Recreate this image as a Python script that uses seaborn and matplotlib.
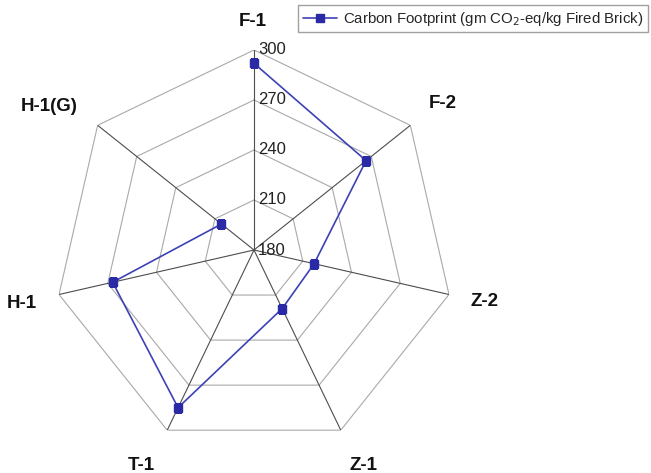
import numpy as np
import pandas as pd
import seaborn as sns
import matplotlib.pyplot as plt

# 데이터
categories = ["F-1", "F-2", "Z-2", "Z-1", "T-1", "H-1", "H-1(G)"]
footprint = [292, 266, 217, 219, 285, 267, 205]
ring_values = [180, 210, 240, 270, 300]
series_name = "Carbon Footprint (gm CO$_2$-eq/kg Fired Brick)"

sns.set_style("white")
plt.rcParams["font.family"] = ["Liberation Sans", "DejaVu Sans"]

fig = plt.figure(figsize=(6.51, 4.73), dpi=100)
ax = fig.add_axes([54 / 651, 23 / 473, 400 / 651, 400 / 473], projection="polar")
ax.set_theta_zero_location("N")
ax.set_theta_direction(-1)
ax.set_ylim(ring_values[0], ring_values[-1])
ax.grid(False)
ax.set_xticks([])
ax.set_yticks([])
ax.spines["polar"].set_visible(False)

n = len(categories)
angles = np.linspace(0, 2 * np.pi, n, endpoint=False)

# 다각형 격자
closed = np.append(angles, angles[0])
for v in ring_values[1:]:
    ax.plot(closed, [v] * (n + 1), color="#a9a9a9", lw=0.8, zorder=1)
for a in angles:
    ax.plot([a, a], [ring_values[0], ring_values[-1]], color="#4d4d4d", lw=0.8, zorder=1)

# 값 라벨
for v in ring_values:
    ax.annotate(str(v), xy=(0, v), xytext=(3, 0), textcoords="offset points",
                ha="left", va="center", fontsize=12, color="#222222")

# 카테고리 라벨 (꼭짓점에서 픽셀 단위로 띄움)
label_offsets = [(-1, 29), (32, 22), (36, -7), (23, -35), (-26, -35), (-37, -9), (-48, 19)]
for a, c, off in zip(angles, categories, label_offsets):
    ax.annotate(c, xy=(a, ring_values[-1]), xytext=off, textcoords="offset pixels",
                ha="center", va="center", fontsize=13.5, fontweight="bold",
                color="#111111")

df = pd.DataFrame({"theta": np.append(angles, angles[0]),
                   "value": footprint + footprint[:1]})
sns.lineplot(data=df, x="theta", y="value", sort=False, ax=ax,
             color="#3c42b4", lw=1.2, zorder=3)
ax.plot(angles, footprint, ls="none", marker="s", ms=6,
        color="#2a2aa6", zorder=4)
ax.set_xlabel("")
ax.set_ylabel("")

# 범례
handle = plt.Line2D([], [], color="#3c42b4", lw=1.2, marker="s", ms=6,
                    markerfacecolor="#2a2aa6", markeredgecolor="#2a2aa6")
fig.legend([handle], [series_name], loc="upper right", bbox_to_anchor=(1.0, 0.995),
           fontsize=10.8, frameon=True, fancybox=False, edgecolor="#888888",
           borderpad=0.3, handlelength=2.3, handletextpad=0.4, borderaxespad=0.2)

fig.savefig("out.png", dpi=100)
